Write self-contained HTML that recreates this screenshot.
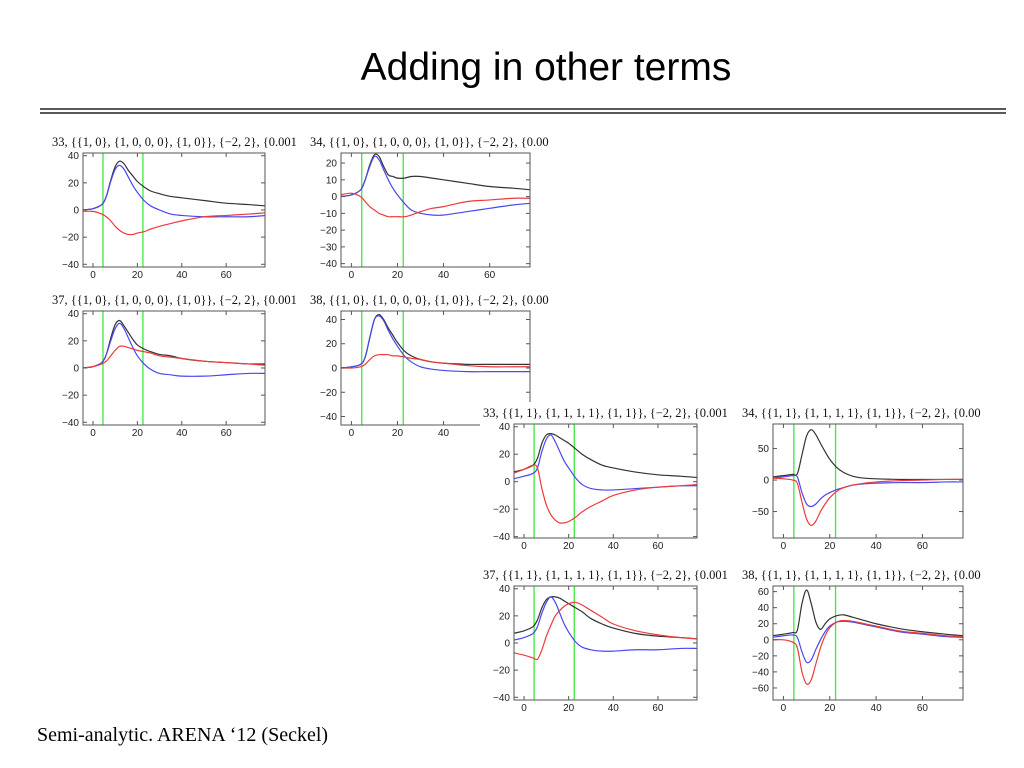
<!DOCTYPE html>
<html><head><meta charset="utf-8"><style>
html,body{margin:0;padding:0;background:#fff;width:1024px;height:768px;overflow:hidden}
svg{position:absolute;left:0;top:0}
</style></head><body>
<svg id="s" width="1024" height="768">
<text x="546" y="80" text-anchor="middle" font-family="Liberation Sans, sans-serif" font-size="39" fill="#000">Adding in other terms</text>
<line x1="40" y1="109" x2="1006" y2="109" stroke="#222" stroke-width="1.5"/>
<line x1="40" y1="113" x2="1006" y2="113" stroke="#222" stroke-width="1.5"/>
<text x="37" y="741" font-family="Liberation Serif, serif" font-size="20" fill="#000">Semi-analytic. ARENA ‘12 (Seckel)</text>
</svg>
<script>
const xs=[-5,0,4,6,8,10,12,14,16,18,20,23,26,30,35,40,50,60,70,78];
const xTicks=[0,20,40,60];
const greenLines=[4.5,22.5];
const p1Black=[0,1,4,10,22,32,36,34,29,25,21,17,14,12,10,9,7,5,4,3];
const p1Blue=[0,1,4,10,21,30,33,30,24,18,13,7,3,0,-3,-4,-5,-5,-5,-4];
const p1Red=[-1,-1,-3,-5,-8,-12,-15,-17,-18,-18,-17,-16,-14,-12,-10,-8,-5,-4,-3,-2];
const p2Black=[0,1,4,10,19,25,24,18,13,12,11,11,12,12,11,10,8,6,5,4];
const p2Blue=[0,1,4,10,18,24,22,16,10,5,1,-4,-8,-10,-11,-11,-9,-7,-5,-4];
const p2Red=[1,2,0,-3,-6,-8,-10,-11,-12,-12,-12,-12,-11,-9,-7,-6,-3,-2,-1,-1];
const p3Black=[0,1,4,10,22,32,35,31,26,21,17,14,12,10,9,7,5,4,3,3];
const p3Blue=[0,1,4,10,20,29,33,29,22,15,9,3,-1,-4,-5,-6,-6,-5,-4,-4];
const p3Red=[0,1,3,5,9,13,16,16,15,14,13,12,11,9,8,7,5,4,3,2];
const p4Black=[0,1,3,9,25,40,44,40,33,27,21,14,10,7,5,4,3,3,3,3];
const p4Blue=[0,1,3,9,25,40,43,39,31,24,18,10,5,1,-1,-2,-3,-3,-3,-3];
const p4Red=[0,0,1,3,7,10,11,11,11,10,10,9,8,7,5,4,2,1,1,1];
const p5Black=[7,9,12,17,28,34,35,34,32,30,28,24,20,16,12,10,7,5,4,3];
const p5Blue=[2,4,6,10,22,31,34,29,22,15,10,3,-2,-5,-6,-6,-5,-4,-3,-3];
const p5Red=[6,9,12,10,-5,-17,-24,-28,-30,-30,-29,-26,-22,-18,-14,-10,-6,-4,-3,-2];
const p6Black=[5,7,9,10,40,70,80,72,58,45,33,20,12,6,3,2,1,1,1,1];
const p6Blue=[3,5,7,5,-20,-38,-42,-38,-30,-24,-20,-15,-12,-8,-6,-5,-4,-4,-3,-3];
const p6Red=[3,2,0,-5,-35,-62,-72,-65,-50,-38,-28,-18,-12,-8,-5,-3,-1,0,1,1];
const p7Black=[7,9,12,17,26,32,34,34,33,31,29,26,23,18,14,11,7,5,4,3];
const p7Blue=[2,4,7,12,22,30,34,30,22,14,8,1,-3,-5,-6,-6,-5,-5,-4,-4];
const p7Red=[-7,-9,-11,-12,-5,5,13,20,24,27,29,30,28,24,19,14,9,6,4,3];
const p8Black=[5,7,9,12,45,62,45,22,13,20,26,30,31,28,24,20,14,10,7,5];
const p8Blue=[3,5,6,3,-15,-28,-25,-12,0,10,17,22,23,22,19,16,10,7,4,3];
const p8Red=[0,0,-3,-10,-40,-55,-50,-30,-10,5,15,22,24,23,20,17,11,8,5,4];
const tA="{{1, 0}, {1, 0, 0, 0}, {1, 0}}, {\u22122, 2}, {0.001, 1";
const tB="{{1, 1}, {1, 1, 1, 1}, {1, 1}}, {\u22122, 2}, {0.001, 1";
const plots=[
 {id:"33a",t:"33, "+tA,l:83,r:265,tp:153,b:267,y0:-42,y1:42,yt:[40,20,0,-20,-40],d:[p1Black,p1Blue,p1Red],cw:245},
 {id:"34a",t:"34, "+tA,l:341,r:530,tp:153,b:267,y0:-42,y1:26,yt:[20,10,0,-10,-20,-30,-40],d:[p2Black,p2Blue,p2Red],cw:240},
 {id:"37a",t:"37, "+tA,l:83,r:265,tp:311,b:425,y0:-42,y1:42,yt:[40,20,0,-20,-40],d:[p3Black,p3Blue,p3Red],cw:245},
 {id:"38a",t:"38, "+tA,l:341,r:530,tp:311,b:425,y0:-47,y1:47,yt:[40,20,0,-20,-40],d:[p4Black,p4Blue,p4Red],cw:240},
 {id:"33b",t:"33, "+tB,l:514,r:697,tp:424,b:538,y0:-41,y1:42,yt:[40,20,0,-20,-40],d:[p5Black,p5Blue,p5Red],cw:245,bg:[480,402,262,143]},
 {id:"34b",t:"34, "+tB,l:773,r:963,tp:424,b:538,y0:-92,y1:89,yt:[50,0,-50],d:[p6Black,p6Blue,p6Red],cw:240,bg:[740,402,260,143]},
 {id:"37b",t:"37, "+tB,l:514,r:697,tp:586,b:700,y0:-42,y1:42,yt:[40,20,0,-20,-40],d:[p7Black,p7Blue,p7Red],cw:245,bg:[480,562,262,150]},
 {id:"38b",t:"38, "+tB,l:773,r:963,tp:586,b:700,y0:-75,y1:67,yt:[60,40,20,0,-20,-40,-60],d:[p8Black,p8Blue,p8Red],cw:240,bg:[740,562,260,150]}
];
const NS="http://www.w3.org/2000/svg";
const svg=document.getElementById('s');
function mk(tag,attrs,parent){const e=document.createElementNS(NS,tag);for(const k in attrs)e.setAttribute(k,attrs[k]);parent.appendChild(e);return e;}
const colors=["#333","#4848f0","#ee3a3a"];
const names=["black-curve","blue-curve","red-curve"];
plots.forEach((p,i)=>{
 const g=mk('g',{},svg);
 
 
 if(p.bg){mk('rect',{x:p.bg[0],y:p.bg[1],width:p.bg[2],height:p.bg[3],fill:"#fff"},g);}
 const X=v=>p.l+(v+4.5)/82*(p.r-p.l);
 const Y=v=>p.b-(v-p.y0)/(p.y1-p.y0)*(p.b-p.tp);
 const cid='c'+i;
 const cp=mk('clipPath',{id:cid},g);mk('rect',{x:p.l-32,y:p.tp-22,width:p.cw+0,height:22},cp);
 const t=mk('text',{x:p.l-31,y:p.tp-7,'font-family':'Liberation Serif, serif','font-size':12.5,fill:'#111','clip-path':'url(#'+cid+')'},g);
 t.textContent=p.t;
 
 
 const pc='pc'+i;
 const cp2=mk('clipPath',{id:pc},g);mk('rect',{x:p.l,y:p.tp,width:p.r-p.l,height:p.b-p.tp},cp2);
 greenLines.forEach(v=>{const ln=mk('line',{x1:X(v),x2:X(v),y1:p.tp,y2:p.b,stroke:'#3ee83e','stroke-width':1.3},g);
  
  });
 p.d.forEach((arr,k)=>{
  const pts=arr.map((v,j)=>[X(xs[j]),Y(v)]);
  let d="M"+pts[0][0]+","+pts[0][1];
  for(let j=0;j<pts.length-1;j++){const p0=pts[Math.max(0,j-1)],p1=pts[j],p2=pts[j+1],p3=pts[Math.min(pts.length-1,j+2)];
   d+=" C"+(p1[0]+(p2[0]-p0[0])/6)+","+(p1[1]+(p2[1]-p0[1])/6)+" "+(p2[0]-(p3[0]-p1[0])/6)+","+(p2[1]-(p3[1]-p1[1])/6)+" "+p2[0]+","+p2[1];}
  const path=mk('path',{d:d,fill:'none',stroke:colors[k],'stroke-width':1.2,'clip-path':'url(#'+pc+')'},g);
  
  
 });
 const fr=mk('rect',{x:p.l,y:p.tp,width:p.r-p.l,height:p.b-p.tp,fill:'none',stroke:'#555','stroke-width':1},g);
 
 
 p.yt.forEach(v=>{const y=Y(v);
  mk('line',{x1:p.l,x2:p.l+4,y1:y,y2:y,stroke:'#555'},g);mk('line',{x1:p.r,x2:p.r-4,y1:y,y2:y,stroke:'#555'},g);
  const tx=mk('text',{x:p.l-4,y:y+3.5,'text-anchor':'end','font-family':'Liberation Sans, sans-serif','font-size':10,fill:'#222'},g);
  tx.textContent=(v<0?'\u2212'+(-v):String(v));
  
  });
 xTicks.forEach(v=>{const x=X(v);
  mk('line',{x1:x,x2:x,y1:p.b,y2:p.b-4,stroke:'#555'},g);mk('line',{x1:x,x2:x,y1:p.tp,y2:p.tp+4,stroke:'#555'},g);
  const tx=mk('text',{x:x,y:p.b+11,'text-anchor':'middle','font-family':'Liberation Sans, sans-serif','font-size':10,fill:'#222'},g);
  tx.textContent=String(v);
  
  });
});
</script>
</body></html>
